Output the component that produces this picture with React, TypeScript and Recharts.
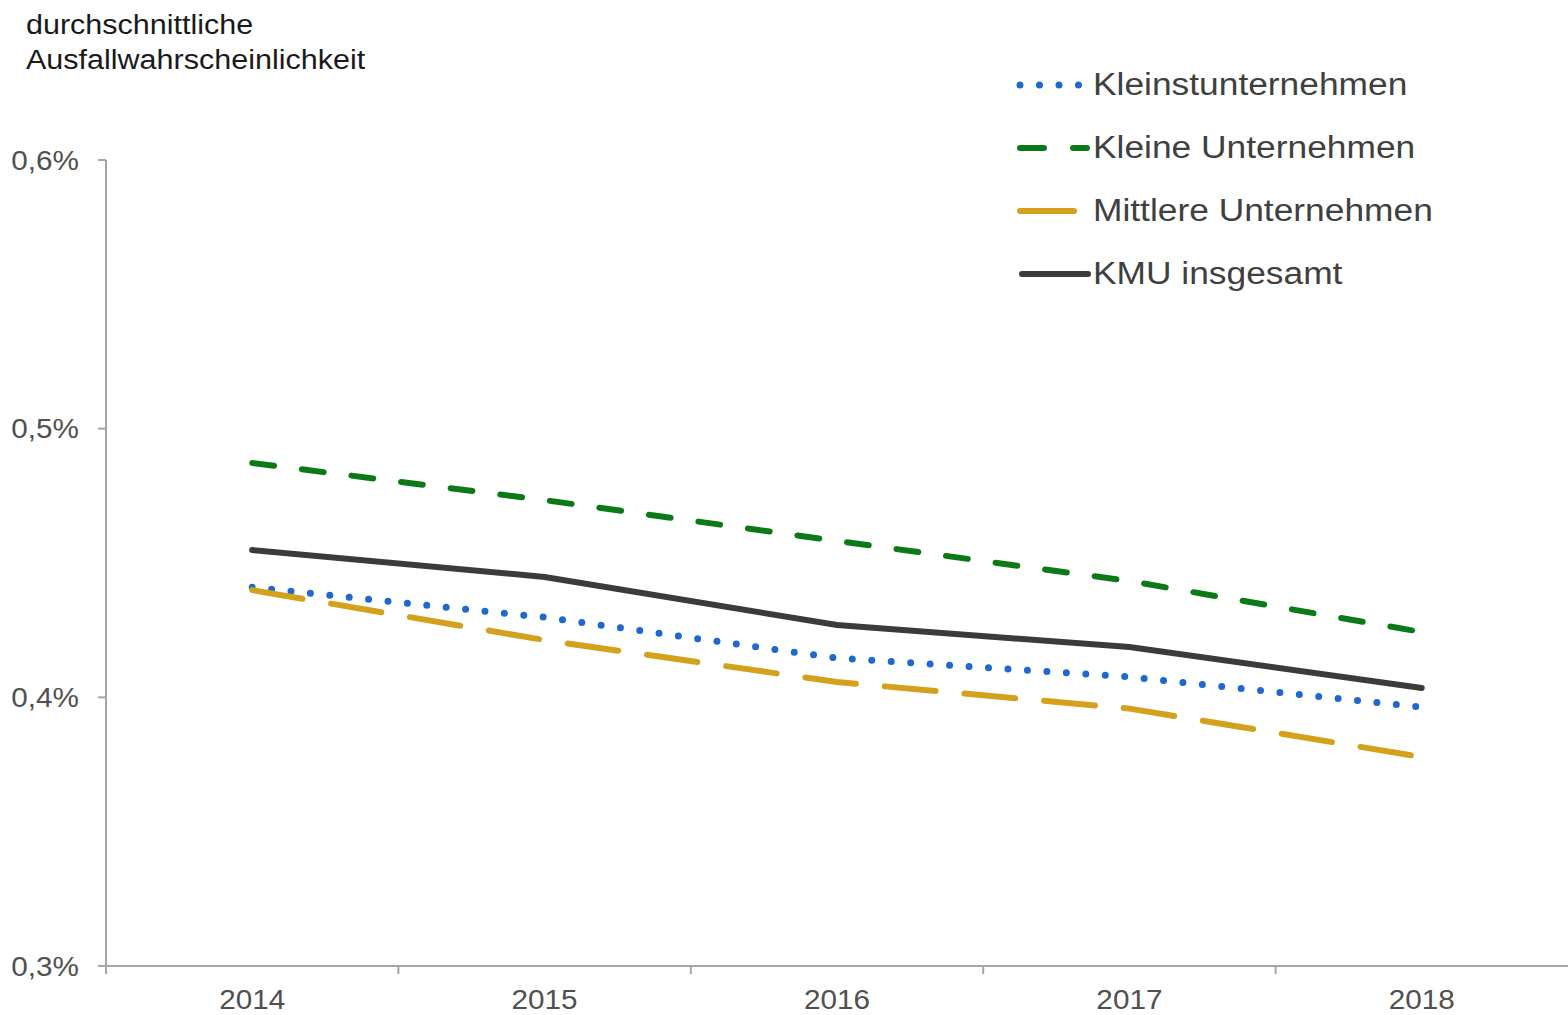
import React from "react";
import { LineChart, Line, XAxis, YAxis } from "recharts";

const years = ["2014", "2015", "2016", "2017", "2018"];
const kleinst = [0.441, 0.4298, 0.4146, 0.4076, 0.3964];
const kleine = [0.4872, 0.4734, 0.4582, 0.4433, 0.4243];
const mittlere = [0.4399, 0.4213, 0.4057, 0.3958, 0.3778];
const kmu = [0.4548, 0.4448, 0.4269, 0.4187, 0.4035];
const yTicks = [0.3, 0.4, 0.5, 0.6];

const titleLines = ["durchschnittliche", "Ausfallwahrscheinlichkeit"];

const series = [
  { key: "kleinst", name: "Kleinstunternehmen", color: "#1f68cf", width: 7, dash: "0 19.5" },
  { key: "kleine", name: "Kleine Unternehmen", color: "#0b7a16", width: 6, dash: "22 28" },
  { key: "mittlere", name: "Mittlere Unternehmen", color: "#d4a11c", width: 6, dash: "51 29" },
  { key: "kmu", name: "KMU insgesamt", color: "#3b3b3b", width: 6, dash: undefined as string | undefined },
];

const data = years.map((y, i) => ({
  year: y,
  kleinst: kleinst[i],
  kleine: kleine[i],
  mittlere: mittlere[i],
  kmu: kmu[i],
}));

const AXIS = "#a6a6a6";
const TXT = "#505050";
const FONT = "'Liberation Sans', Arial, sans-serif";

const XTick = (props: any) => {
  const { x, y, payload } = props;
  const off = payload && payload.offset != null ? payload.offset : 0;
  return (
    <g>
      <line x1={x - off} x2={x - off} y1={966} y2={974} stroke={AXIS} strokeWidth={2} />
      <text
        transform={`translate(${x},${y}) scale(1.1,1)`}
        textAnchor="middle"
        dy="0.71em"
        fill={TXT}
        fontSize={27}
        fontFamily={FONT}
      >
        {payload.value}
      </text>
    </g>
  );
};

const YTick = (props: any) => {
  const { x, y, payload } = props;
  const label = (payload.value * 1).toFixed(1).replace(".", ",") + "%";
  return (
    <text
      transform={`translate(${x},${y}) scale(1.1,1)`}
      textAnchor="end"
      dy="0.36em"
      fill={TXT}
      fontSize={27}
      fontFamily={FONT}
    >
      {label}
    </text>
  );
};

const LegendBox = () => (
  <div style={{ position: "absolute", left: 1014, top: 53, fontFamily: FONT, zIndex: 2 }}>
    {series.map((s) => (
      <div key={s.key} style={{ display: "flex", alignItems: "center", height: 63 }}>
        <svg width={79} height={20} style={{ display: "block" }}>
          {s.key === "kleinst" && (
            <line x1={6} x2={70} y1={10} y2={10} stroke={s.color} strokeWidth={7} strokeLinecap="round" strokeDasharray="0 19.5" />
          )}
          {s.key === "kleine" && (
            <line x1={6} x2={73} y1={10} y2={10} stroke={s.color} strokeWidth={6} strokeLinecap="round" strokeDasharray="24 29" />
          )}
          {s.key === "mittlere" && (
            <line x1={6} x2={60} y1={10} y2={10} stroke={s.color} strokeWidth={6} strokeLinecap="round" />
          )}
          {s.key === "kmu" && (
            <line x1={8} x2={74} y1={10} y2={10} stroke={s.color} strokeWidth={6} strokeLinecap="round" />
          )}
        </svg>
        <span
          style={{
            fontSize: 31,
            color: "#404040",
            display: "inline-block",
            transform: "scaleX(1.14)",
            transformOrigin: "left center",
            whiteSpace: "nowrap",
          }}
        >
          {s.name}
        </span>
      </div>
    ))}
  </div>
);

export default function App() {
  return (
    <div style={{ position: "absolute", left: 0, top: 0, width: 1568, height: 1015, background: "#fff", overflow: "hidden" }}>
      <div
        style={{
          position: "absolute",
          left: 26,
          top: 8,
          fontFamily: FONT,
          fontSize: 27,
          lineHeight: "35px",
          color: "#1a1a1a",
          transform: "scaleX(1.13)",
          transformOrigin: "left top",
          zIndex: 2,
        }}
      >
        {titleLines.map((t) => (
          <div key={t}>{t}</div>
        ))}
      </div>
      <LegendBox />
      <LineChart width={1568} height={1015} data={data} margin={{ top: 160, right: 0, bottom: 0, left: 0 }}>
        <XAxis
          dataKey="year"
          scale="band"
          height={49}
          axisLine={{ stroke: AXIS, strokeWidth: 2 }}
          tickLine={false}
          tickSize={0}
          tickMargin={24}
          tick={<XTick />}
          interval={0}
        />
        <YAxis
          type="number"
          domain={[0.3, 0.6]}
          ticks={yTicks}
          width={106}
          axisLine={{ stroke: AXIS, strokeWidth: 2 }}
          tickLine={{ stroke: AXIS, strokeWidth: 2 }}
          tickSize={8}
          tickMargin={19}
          tick={<YTick />}
          interval={0}
        />
        {series.map((s) => (
          <Line
            key={s.key}
            dataKey={s.key}
            name={s.name}
            stroke={s.color}
            strokeWidth={s.width}
            strokeDasharray={s.dash}
            strokeLinecap="round"
            dot={false}
            activeDot={false}
            type="linear"
            isAnimationActive={false}
          />
        ))}
      </LineChart>
    </div>
  );
}
